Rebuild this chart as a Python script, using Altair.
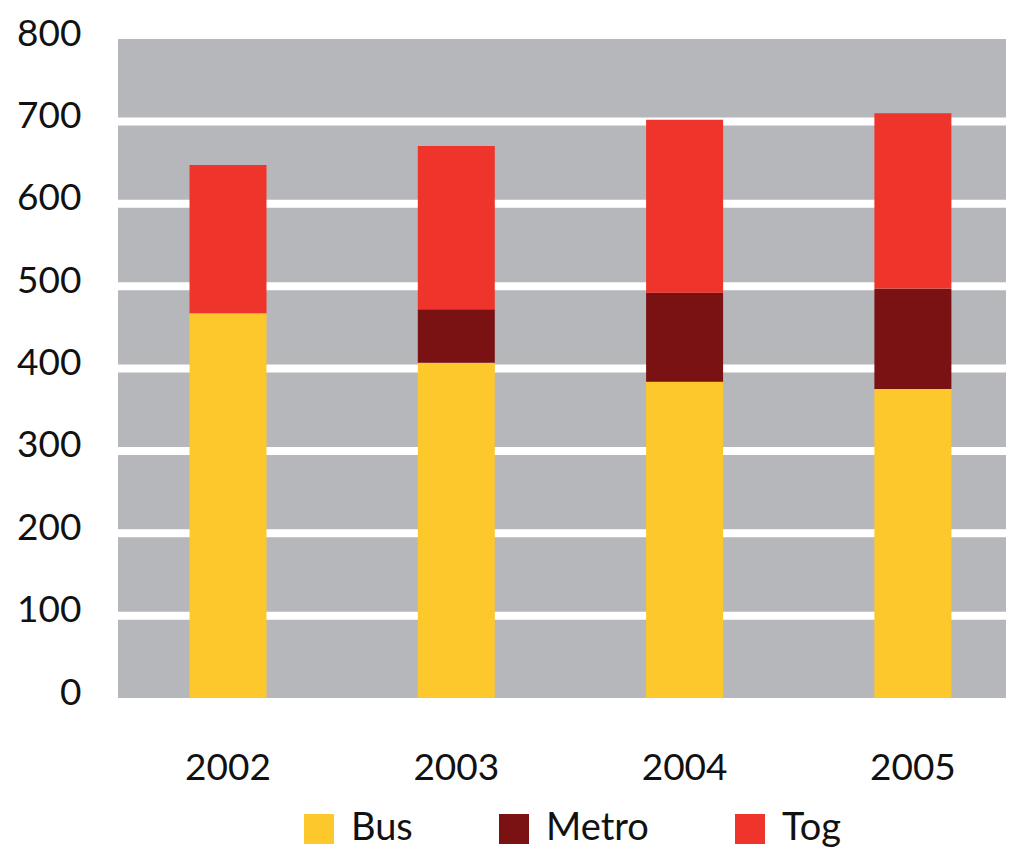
import altair as alt
import pandas as pd

years = ["2002", "2003", "2004", "2005"]
bus = [467, 407, 384, 375]
metro = [0, 65, 108, 122]
tog = [180, 198, 210, 213]
series = ["Bus", "Metro", "Tog"]
colors = ["#fdc82c", "#7a1213", "#ef352b"]
grid_values = [100, 200, 300, 400, 500, 600, 700]
tick_values = [0, 100, 200, 300, 400, 500, 600, 700, 800]

rows = []
for i, y in enumerate(years):
    for k, (name, vals) in enumerate(zip(series, [bus, metro, tog])):
        rows.append({"year": y, "mode": name, "value": vals[i], "ord": k})
df = pd.DataFrame(rows)
grid_df = pd.DataFrame({"g": grid_values})

FONT = "Lato"
yscale = alt.Scale(domain=[0, 800], nice=False, zero=True)
xscale = alt.Scale(paddingInner=0.6627, paddingOuter=0.2762, align=0.567)

yaxis = alt.Axis(title=None, values=tick_values, domain=False, ticks=False, grid=False,
                 labelFont=FONT, labelFontSize=37, labelColor="#111111",
                 labelPadding=37, labelOffset=-5)

grid = alt.Chart(grid_df).mark_rule(color="white", strokeWidth=8).encode(
    y=alt.Y("g:Q", scale=yscale, axis=yaxis)
)

bars = alt.Chart(df).mark_bar(strokeWidth=0).encode(
    x=alt.X("year:N", scale=xscale, sort=years,
            axis=alt.Axis(title=None, labelAngle=0, domain=False, ticks=False,
                          labelFont=FONT, labelFontSize=37, labelColor="#111111",
                          labelPadding=52)),
    y=alt.Y("value:Q", stack="zero", scale=yscale, axis=yaxis),
    color=alt.Color("mode:N", scale=alt.Scale(domain=series, range=colors),
                    legend=alt.Legend(title=None, orient="none", direction="horizontal",
                                      legendX=182, legendY=771, symbolType="square",
                                      symbolSize=900, symbolStrokeWidth=0,
                                      labelFont=FONT, labelFontSize=38, labelColor="#111111",
                                      labelOffset=13, columnPadding=82, padding=0)),
    order=alt.Order("ord:Q"),
)

chart = alt.layer(grid, bars).properties(
    width=888, height=659,
    autosize=alt.AutoSizeParams(type="none"),
    padding={"left": 110, "top": 31, "right": 0, "bottom": 151},
    background="white",
).configure_view(fill="#b6b7bb", stroke=None)

chart.save("out.html", embed_options={"renderer": "svg", "actions": False})
